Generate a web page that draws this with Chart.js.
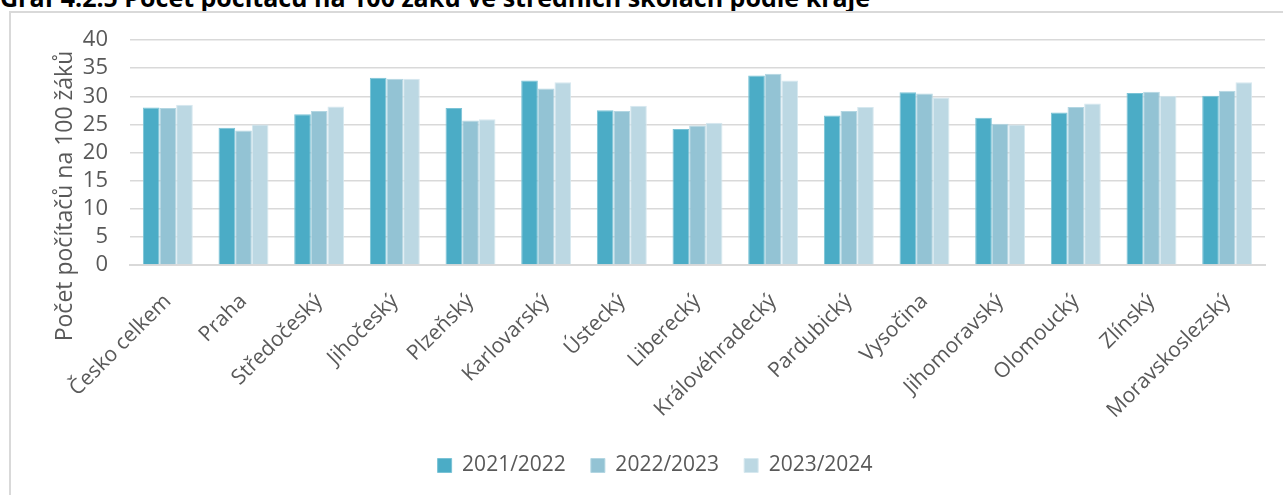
<!DOCTYPE html>
<html>
<head>
<meta charset="utf-8">
<script src="https://cdn.jsdelivr.net/npm/chart.js@4"></script>
<style>
  html, body { margin: 0; padding: 0; background: #fff; overflow: hidden; }
  #wrap { position: relative; width: 1283px; height: 495px; overflow: hidden; }
  #title { position: absolute; left: 0px; top: -20px; font-family: "Open Sans", sans-serif; font-weight: bold; font-size: 25px; color: #000; white-space: nowrap; }
  #frame { position: absolute; left: 9px; top: 11px; width: 1400px; height: 600px; border: 2px solid #d9d9d9; box-sizing: border-box; }
  #c { position: absolute; left: 0; top: 0; }
</style>
</head>
<body>
<div id="wrap">
  <div id="title">Graf 4.2.5 Počet počítačů na 100 žáků ve středních školách podle kraje</div>
  <div id="frame"></div>
  <canvas id="c" width="1283" height="495"></canvas>
</div>
<script>
const categories = ["Česko celkem","Praha","Středočeský","Jihočeský","Plzeňský","Karlovarský","Ústecký","Liberecký","Královéhradecký","Pardubický","Vysočina","Jihomoravský","Olomoucký","Zlínský","Moravskoslezský"];
const seriesNames = ["2021/2022","2022/2023","2023/2024"];
const values2021 = [28.0,24.4,26.8,33.3,27.9,32.8,27.5,24.2,33.7,26.6,30.7,26.2,27.1,30.6,30.1];
const values2022 = [27.9,23.9,27.4,33.1,25.7,31.4,27.4,24.8,34.0,27.4,30.5,25.1,28.1,30.8,31.0];
const values2023 = [28.5,25.0,28.2,33.1,25.9,32.5,28.3,25.3,32.8,28.1,29.8,25.0,28.7,30.1,32.5];
const yTitle = "Počet počítačů na 100 žáků";
const yMin = 0, yMax = 40, yStep = 5;

const colors = ["#4BACC6","#93C3D4","#BCD8E3"];
const borders = ["#7ac3d6","#b3d6e2","#d6e8ef"];
const FONT = '"Open Sans", sans-serif';
const TEXT = '#595959';

const yTitlePlugin = {
  id: 'yTitlePlugin',
  afterDraw(chart) {
    const ctx = chart.ctx;
    ctx.save();
    ctx.font = '23px ' + FONT;
    ctx.fillStyle = TEXT;
    ctx.textAlign = 'center';
    ctx.textBaseline = 'alphabetic';
    ctx.translate(72, 196);
    ctx.rotate(-Math.PI / 2);
    ctx.fillText(yTitle, 0, 0);
    ctx.restore();
  }
};

new Chart(document.getElementById('c'), {
  type: 'bar',
  data: {
    labels: categories,
    datasets: [values2021, values2022, values2023].map((v, i) => ({
      label: seriesNames[i],
      data: v,
      backgroundColor: colors[i],
      borderColor: borders[i],
      borderWidth: 1,
      borderSkipped: 'bottom',
      categoryPercentage: 0.66,
      barPercentage: 1.0
    }))
  },
  options: {
    responsive: false,
    animation: false,
    devicePixelRatio: 1,
    layout: { padding: { left: 45, right: 18, top: 40, bottom: 9 } },
    plugins: {
      legend: {
        position: 'bottom',
        labels: {
          font: { family: FONT, size: 21 },
          color: TEXT,
          boxWidth: 14,
          boxHeight: 14,
          padding: 25
        }
      },
      tooltip: { enabled: false },
      title: { display: false }
    },
    scales: {
      x: {
        grid: { display: false, drawTicks: false },
        border: { display: true, color: '#d9d9d9', width: 2 },
        ticks: {
          font: { family: FONT, size: 21 },
          color: TEXT,
          maxRotation: 45,
          minRotation: 45,
          autoSkip: false,
          padding: 24
        },
        afterFit: s => { s.height = 165; }
      },
      y: {
        min: yMin, max: yMax,
        grid: { color: '#d9d9d9', lineWidth: 1.5, drawTicks: false },
        border: { display: false },
        ticks: {
          stepSize: yStep,
          autoSkip: false,
          font: { family: FONT, size: 22 },
          color: TEXT,
          padding: 22
        },
        afterFit: s => { s.width = 85; }
      }
    }
  },
  plugins: [yTitlePlugin]
});
</script>
</body>
</html>
